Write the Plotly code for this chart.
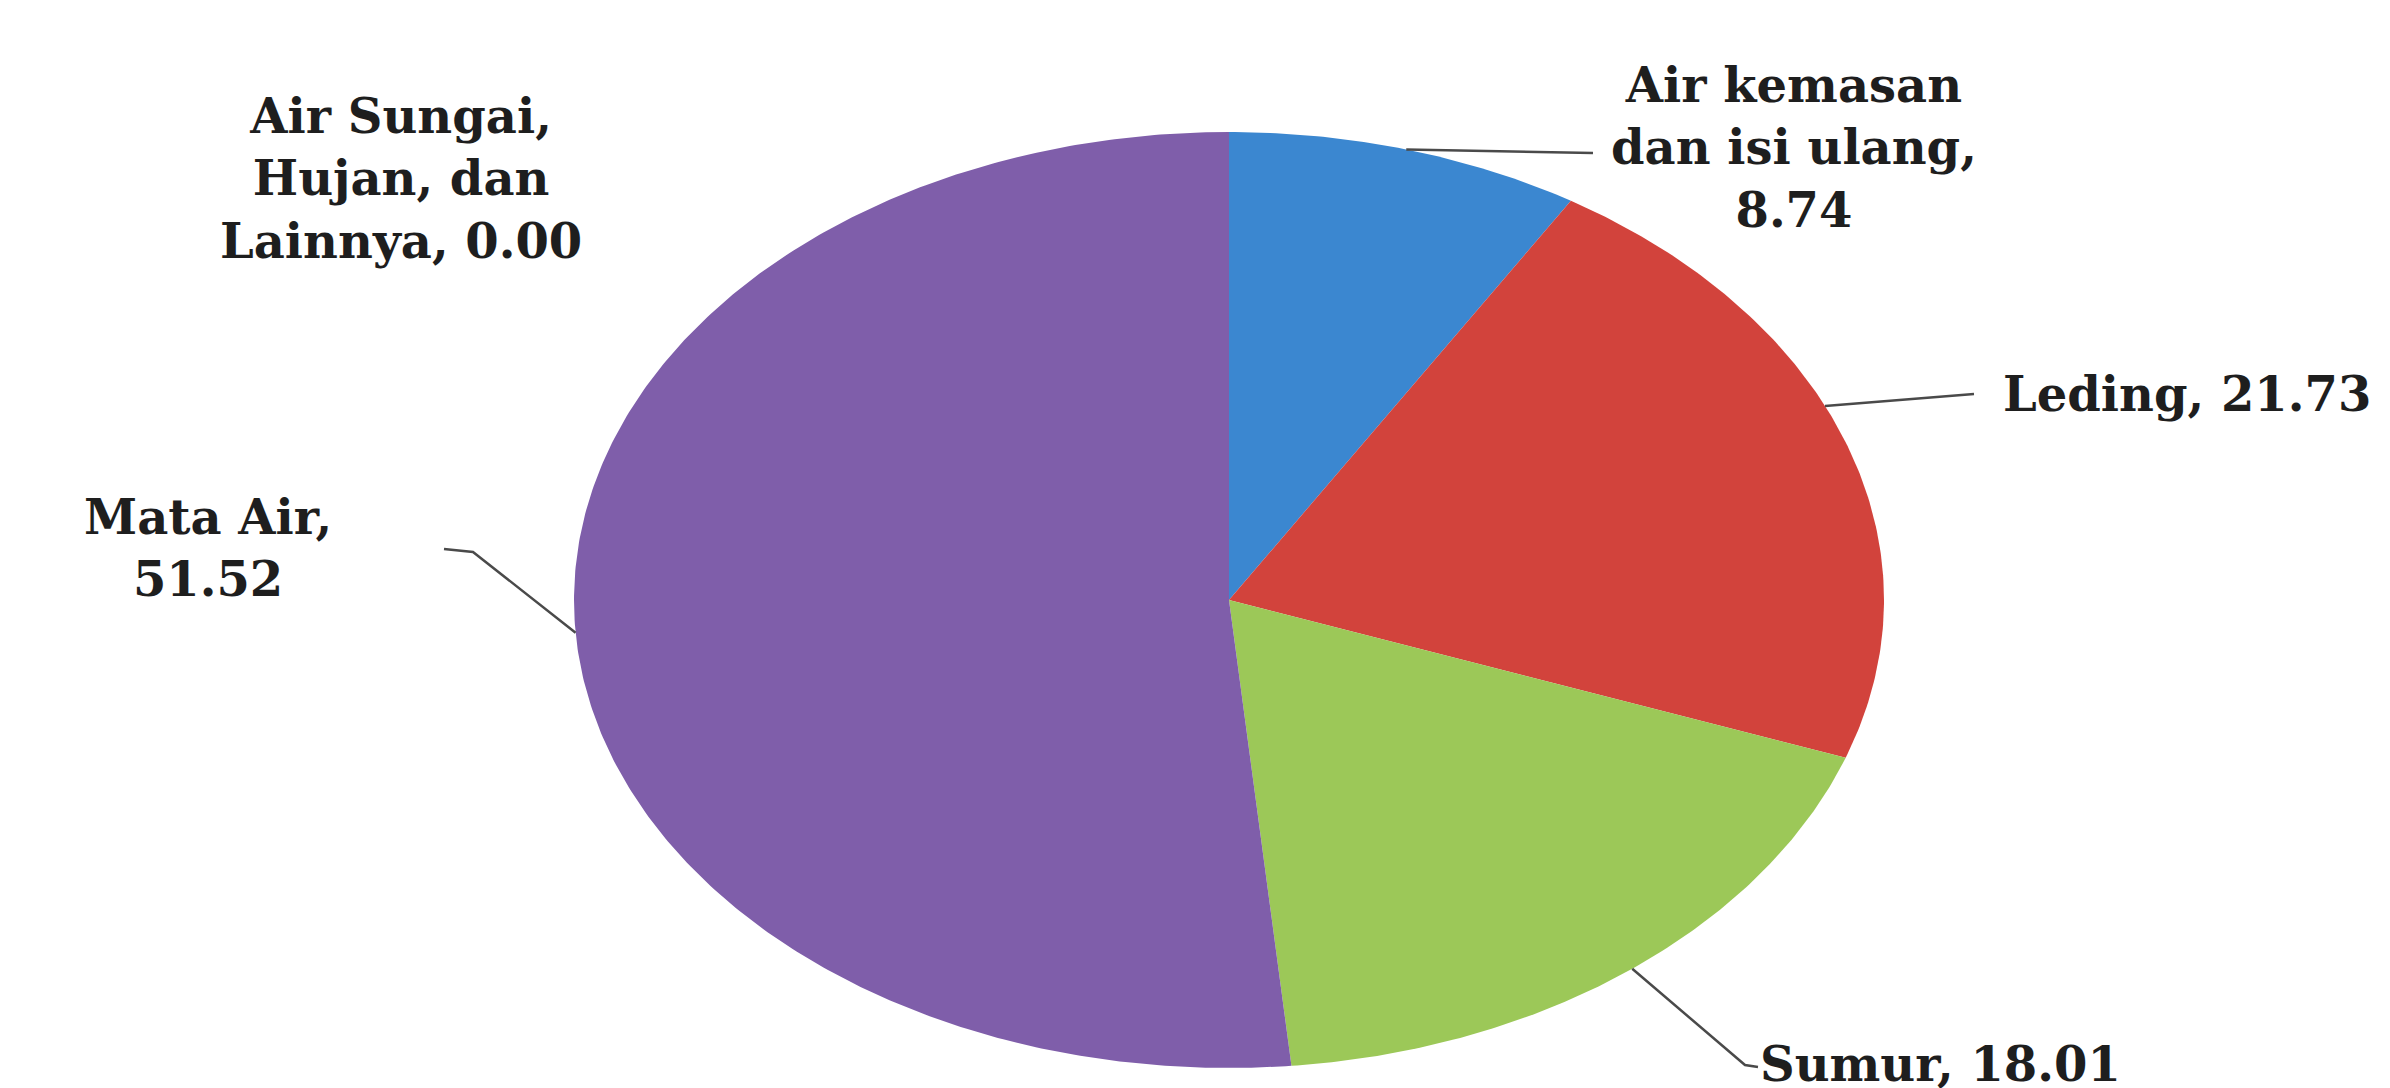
import numpy as np
import plotly.graph_objects as go

# ---- data ----
categories = ["Air kemasan dan isi ulang", "Leding", "Sumur", "Mata Air",
              "Air Sungai, Hujan, dan Lainnya"]
values = [8.74, 21.73, 18.01, 51.52, 0.00]
label_texts = ["Air kemasan<br>dan isi ulang,<br>8.74", "Leding, 21.73",
               "Sumur, 18.01", "Mata Air,<br>51.52",
               "Air Sungai,<br>Hujan, dan<br>Lainnya, 0.00"]
colors = ["#3b87d0", "#d2433c", "#9cc858", "#7f5eaa", "#8064a2"]

# ---- layout geometry (pixel space) ----
W, H = 2390, 1088
CX, CY = 1221, 592
RX, RY = 655, 468

fig = go.Figure()

total = sum(values)
start = 0.0
for cat, v, col in zip(categories, values, colors):
    frac = v / total
    a0 = start * 2 * np.pi
    a1 = (start + frac) * 2 * np.pi
    start += frac
    if v <= 0:
        continue
    n = max(int(frac * 720), 4)
    t = np.linspace(a0, a1, n)
    xs = np.concatenate([[CX], CX + RX * np.sin(t), [CX]])
    ys = np.concatenate([[CY], CY - RY * np.cos(t), [CY]])
    fig.add_trace(go.Scatter(x=xs, y=ys, mode="lines", fill="toself",
                             fillcolor=col, line=dict(width=0, color=col),
                             hoverinfo="text", text=f"{cat}: {v:.2f}",
                             showlegend=False))

# label placement (positions only); lead = angle (deg, clockwise from top)
# where the leader leaves the pie edge, followed by its bend/end points
label_pos = [
    dict(x=1786, y=139, xanchor="center", ang=15.7, lead=[(1585, 145)]),
    dict(x=1993, y=386, xanchor="left", ang=65.5, lead=[(1966, 386)]),
    dict(x=1750, y=1056, xanchor="left", ang=142.0, lead=[(1737, 1057), (1750, 1059)]),
    dict(x=200, y=540, xanchor="center", ang=266.0, lead=[(465, 544), (436, 541)]),
    dict(x=393, y=170, xanchor="center", ang=None, lead=None),
]

for i, (txt, pos) in enumerate(zip(label_texts, label_pos)):
    if pos["lead"] and values[i] > 0:
        a = np.deg2rad(pos["ang"])
        ex = CX + RX * np.sin(a)
        ey = CY - RY * np.cos(a)
        lx = [ex] + [p[0] for p in pos["lead"]]
        ly = [ey] + [p[1] for p in pos["lead"]]
        fig.add_trace(go.Scatter(x=lx, y=ly, mode="lines",
                                 line=dict(color="#4a4a4a", width=2.5),
                                 hoverinfo="skip", showlegend=False))
    fig.add_annotation(x=pos["x"], y=pos["y"], xref="x", yref="y",
                       text=f"<b>{txt}</b>", showarrow=False,
                       xanchor=pos["xanchor"], yanchor="middle",
                       font=dict(family="DejaVu Serif", size=48, color="#1e1e1e"))

fig.update_layout(
    width=W, height=H,
    margin=dict(l=0, r=0, t=0, b=0),
    paper_bgcolor="white", plot_bgcolor="white",
    xaxis=dict(range=[0, W], visible=False, fixedrange=True),
    yaxis=dict(range=[H, 0], visible=False, fixedrange=True),
)

fig.write_html("out.html")
